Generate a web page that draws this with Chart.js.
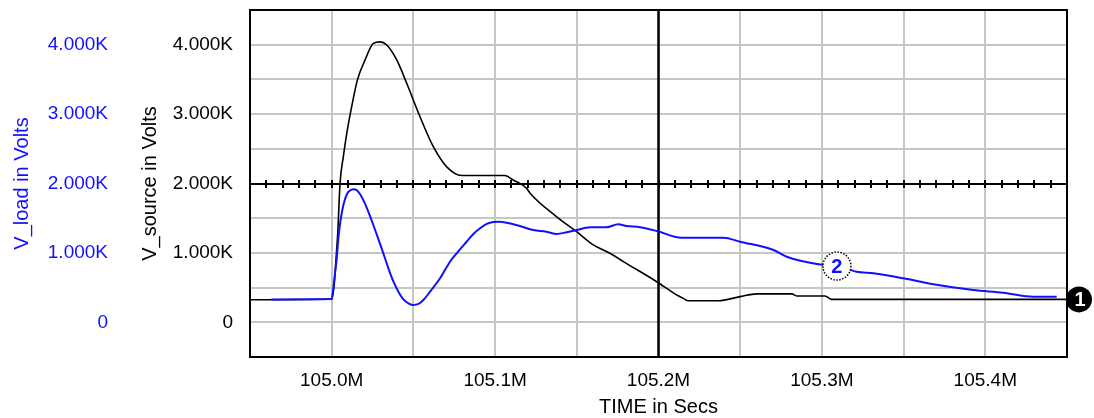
<!DOCTYPE html>
<html>
<head>
<meta charset="utf-8">
<script src="https://cdn.jsdelivr.net/npm/chart.js@4/dist/chart.umd.min.js"></script>
<style>
  html, body { margin: 0; padding: 0; background: #fff; }
  #wrap { width: 1094px; height: 418px; position: relative; }
</style>
</head>
<body>
<div id="wrap"><canvas id="c" width="1094" height="418"></canvas></div>
<script>
// ---- Data ----
const sourceTime = [104.95, 105.0, 105.0016, 105.0026, 105.0037, 105.0051, 105.0071, 105.0092, 105.0122, 105.0157, 105.0204, 105.0255, 105.0296, 105.0337, 105.0398, 105.0459, 105.054, 105.0622, 105.0704, 105.0796, 105.106, 105.1111, 105.1193, 105.1214, 105.1377, 105.1499, 105.1601, 105.1703, 105.1785, 105.1989, 105.2111, 105.2152, 105.2182, 105.2366, 105.2499, 105.2601, 105.2815, 105.2846, 105.3019, 105.306, 105.45];
const sourceVolts = [325, 335, 560, 900, 1285, 2000, 2385, 2720, 3105, 3490, 3780, 4020, 4040, 3995, 3780, 3445, 2965, 2530, 2240, 2115, 2115, 2050, 1930, 1860, 1520, 1305, 1115, 995, 875, 585, 395, 345, 310, 310, 370, 410, 410, 380, 380, 330, 330];

const loadTime = [104.963, 105.0, 105.0006, 105.002, 105.003, 105.004, 105.005, 105.0065, 105.008, 105.0096, 105.011, 105.0132, 105.0153, 105.0173, 105.0198, 105.0224, 105.0255, 105.0286, 105.0316, 105.0347, 105.0378, 105.0408, 105.0439, 105.047, 105.05, 105.0531, 105.0561, 105.0602, 105.0663, 105.0724, 105.0765, 105.0826, 105.0867, 105.0908, 105.0949, 105.0989, 105.103, 105.1071, 105.1152, 105.1234, 105.1315, 105.1377, 105.1438, 105.1499, 105.158, 105.1682, 105.1753, 105.1805, 105.1887, 105.1989, 105.214, 105.2397, 105.25, 105.2704, 105.2785, 105.2969, 105.3092, 105.3213, 105.3315, 105.3498, 105.3682, 105.3927, 105.411, 105.4294, 105.4437];
const loadVolts = [330, 335, 418, 706, 898, 1186, 1402, 1618, 1762, 1859, 1896, 1916, 1906, 1849, 1738, 1594, 1402, 1196, 994, 778, 585, 441, 331, 274, 249, 264, 321, 441, 634, 873, 994, 1161, 1272, 1355, 1417, 1445, 1450, 1435, 1388, 1330, 1306, 1272, 1297, 1330, 1369, 1369, 1412, 1388, 1369, 1316, 1219, 1219, 1161, 1042, 945, 840, 810, 729, 706, 634, 548, 465, 427, 369, 369];

const xRange = [104.95, 105.45];
const yRange = [-500, 4500];
const cursorTime = 105.2;
const cursorVolts = 2000;
const marker2Index = 56; // point on V_load where marker "2" sits

const FONT = "'Liberation Sans', Arial, sans-serif";
const GRID = '#c2c8c2';
const BLUE = '#1010ff';

function yLabel(v) {
  if (Math.round(v) % 1000 !== 0) return '';
  if (Math.round(v) === 0) return '0';
  return (v / 1000).toFixed(3) + 'K';
}
function xLabel(v) {
  const k = Math.round(v * 100);
  if (k % 10 !== 0) return '';
  return (k / 100).toFixed(1) + 'M';
}
function noPad(s) { s.paddingTop = 0; s.paddingBottom = 0; s.paddingLeft = 0; s.paddingRight = 0; }

const overlay = {
  id: 'overlay',
  beforeDatasetsDraw(chart) {
    const {ctx, chartArea: a, scales: {x, y}} = chart;
    ctx.save();
    ctx.strokeStyle = '#000';
    ctx.lineWidth = 2;
    const cy = Math.round(y.getPixelForValue(cursorVolts));
    ctx.beginPath(); ctx.moveTo(a.left, cy); ctx.lineTo(a.right, cy); ctx.stroke();
    ctx.beginPath();
    for (let k = 10496; k < 10545; k++) {
      const px = Math.round(x.getPixelForValue(k / 100));
      ctx.moveTo(px, cy - 4); ctx.lineTo(px, cy + 4);
    }
    ctx.stroke();
    ctx.lineWidth = 2.5;
    const cx = x.getPixelForValue(cursorTime);
    ctx.beginPath(); ctx.moveTo(cx, a.top); ctx.lineTo(cx, a.bottom); ctx.stroke();
    ctx.lineWidth = 2;
    ctx.strokeRect(a.left, a.top, a.right - a.left, a.bottom - a.top);
    ctx.restore();
  },
  afterDatasetsDraw(chart) {
    const {ctx, chartArea: a, scales: {x, y}} = chart;
    ctx.save();
    const y1 = y.getPixelForValue(sourceVolts[sourceVolts.length - 1]);
    const x1 = a.right + 12;
    ctx.fillStyle = '#000';
    ctx.beginPath(); ctx.arc(x1, y1, 13, 0, Math.PI * 2); ctx.fill();
    ctx.fillStyle = '#fff';
    ctx.font = 'bold 20px ' + FONT;
    ctx.textAlign = 'center'; ctx.textBaseline = 'middle';
    ctx.fillText('1', x1 + 1, y1 + 1);
    const x2 = x.getPixelForValue(loadTime[marker2Index]);
    const y2 = y.getPixelForValue(loadVolts[marker2Index]);
    ctx.fillStyle = '#fff';
    ctx.beginPath(); ctx.arc(x2, y2, 14, 0, Math.PI * 2); ctx.fill();
    ctx.setLineDash([1.5, 1.5]);
    ctx.strokeStyle = '#000';
    ctx.lineWidth = 1.5;
    ctx.stroke();
    ctx.setLineDash([]);
    ctx.fillStyle = BLUE;
    ctx.font = 'bold 20px ' + FONT;
    ctx.fillText('2', x2, y2 + 1);
    ctx.restore();
  }
};

const toPoints = (ts, vs) => ts.map((t, i) => ({x: t, y: vs[i]}));

new Chart(document.getElementById('c'), {
  type: 'line',
  data: {
    datasets: [
      {
        label: 'V_source',
        data: toPoints(sourceTime, sourceVolts),
        yAxisID: 'y',
        borderColor: '#000',
        borderWidth: 1.6,
        pointRadius: 0,
        cubicInterpolationMode: 'monotone',
        order: 2
      },
      {
        label: 'V_load',
        data: toPoints(loadTime, loadVolts),
        yAxisID: 'yLoad',
        borderColor: BLUE,
        borderWidth: 2,
        pointRadius: 0,
        cubicInterpolationMode: 'monotone',
        order: 1
      }
    ]
  },
  options: {
    responsive: false,
    animation: false,
    devicePixelRatio: 1,
    layout: { padding: { left: 0, top: 10, right: 27, bottom: 0 } },
    plugins: { legend: { display: false }, tooltip: { enabled: false } },
    scales: {
      x: {
        type: 'linear',
        min: xRange[0], max: xRange[1],
        ticks: { stepSize: 0.05, callback: xLabel, color: '#000', padding: 12, maxRotation: 0, autoSkip: false, font: { family: FONT, size: 19 } },
        grid: { color: GRID, lineWidth: 2, drawTicks: false },
        border: { display: false },
        title: { display: true, text: 'TIME in Secs', color: '#000', font: { family: FONT, size: 20, lineHeight: 1 }, padding: { top: 0, bottom: 1 } },
        afterFit: s => { s.height = 61; noPad(s); }
      },
      y: {
        position: 'left',
        weight: 0,
        min: yRange[0], max: yRange[1],
        ticks: { stepSize: 500, callback: yLabel, color: '#000', padding: 17, font: { family: FONT, size: 19 } },
        grid: { color: GRID, lineWidth: 2, drawTicks: false },
        border: { display: false },
        title: { display: true, text: 'V_source in Volts', color: '#000', font: { family: FONT, size: 20, lineHeight: 1 }, padding: { top: 15, bottom: 0 } },
        afterFit: s => { s.width = 125; noPad(s); }
      },
      yLoad: {
        position: 'left',
        weight: 1,
        min: yRange[0], max: yRange[1],
        ticks: { stepSize: 500, callback: yLabel, color: BLUE, padding: 17, font: { family: FONT, size: 19 } },
        grid: { display: false, drawTicks: false },
        border: { display: false },
        title: { display: true, text: 'V_load in Volts', color: BLUE, font: { family: FONT, size: 20, lineHeight: 1 }, padding: { top: 12, bottom: 0 } },
        afterFit: s => { s.width = 125; noPad(s); }
      }
    }
  },
  plugins: [overlay]
});
</script>
</body>
</html>
